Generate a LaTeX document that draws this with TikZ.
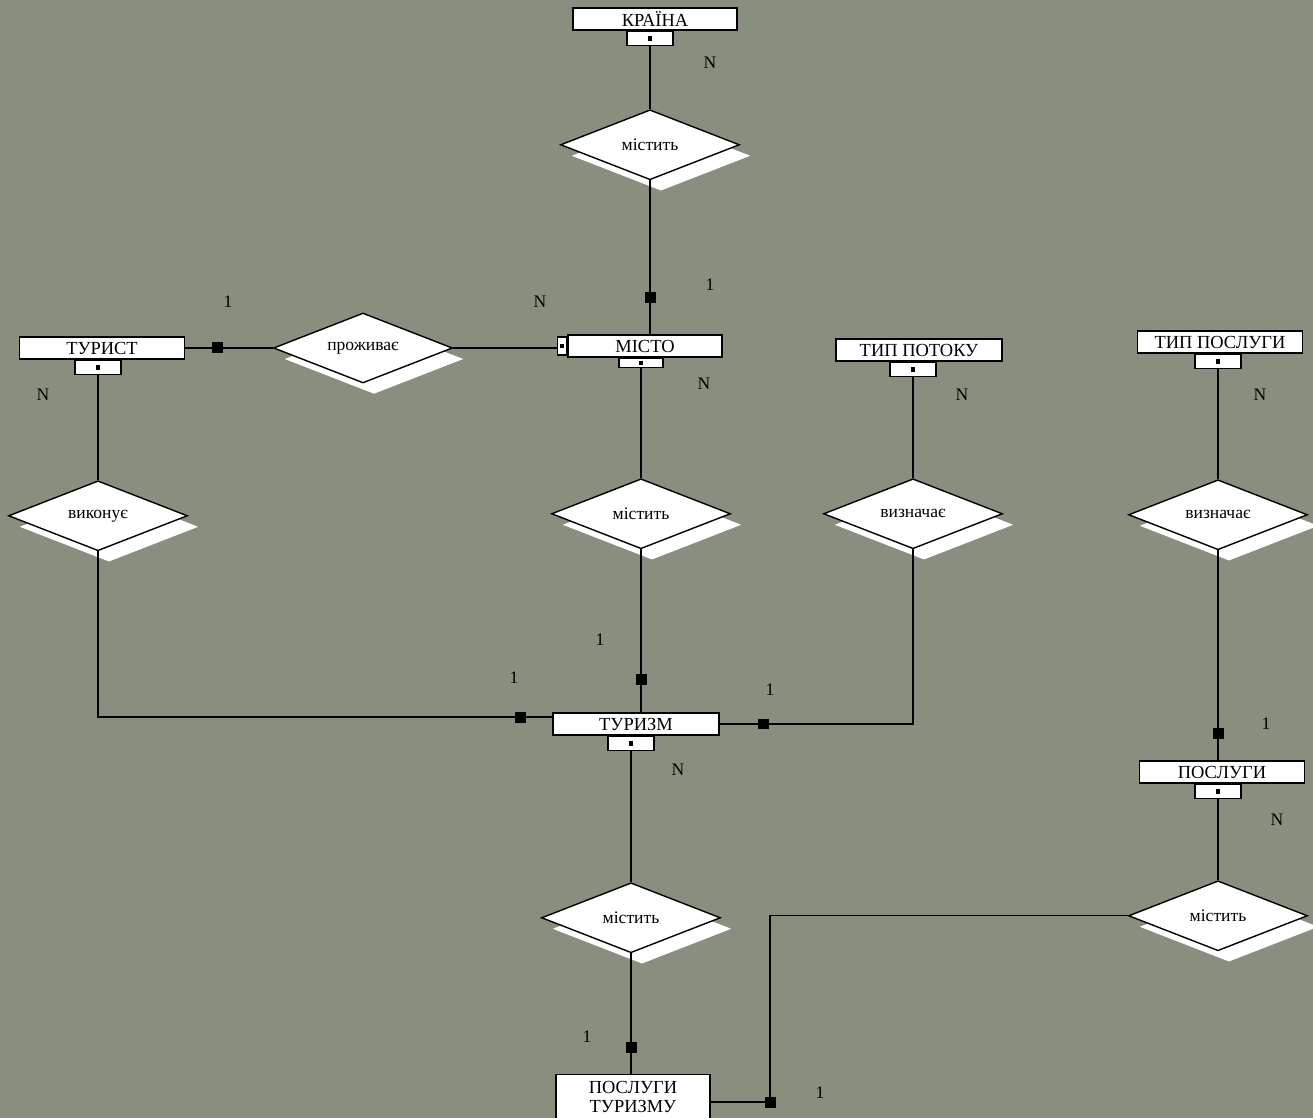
\documentclass[tikz,border=0pt]{standalone}
\usepackage{fontspec}
\setmainfont{Liberation Serif}
\usetikzlibrary{positioning,shapes.geometric,shadows}
\definecolor{boardgrey}{RGB}{137,143,127}

\tikzset{
  entity/.style={draw, fill=white, line width=0.8pt, minimum height=0.44cm, inner sep=1pt, font=\fontsize{10.5}{10.5}\selectfont},
  keybox/.style={draw, fill=white, line width=0.8pt, minimum width=0.92cm, minimum height=0.28cm, inner sep=0pt,
    path picture={\fill[black] (path picture bounding box.center) +(-1.2pt,-1.2pt) rectangle +(1.2pt,1.2pt);}},
  rel/.style={diamond, draw, fill=white, line width=0.8pt, aspect=2.5, inner sep=0pt,
    minimum width=3.58cm, minimum height=1.4cm, font=\fontsize{10}{12}\selectfont,
    drop shadow={shadow xshift=0.22cm, shadow yshift=-0.22cm, fill=white, opacity=1}},
  sqmark/.style={fill=black, minimum size=0.22cm, inner sep=0pt},
  card/.style={font=\fontsize{10}{12}\selectfont},
  conn/.style={line width=0.6pt}
}

\begin{document}
\begin{tikzpicture}[x=0.02cm, y=-0.02cm]
    \clip (0,0) rectangle (1313,1118);
    \fill[boardgrey] (0,0) rectangle (1313,1118);

    \node[entity, minimum width=3.28cm] (kraina) at (655,19) {КРАЇНА};
    \node[keybox, below=0pt of kraina, xshift=-0.1cm] (kraina-k) {};
    \node[rel, below=1.26cm of kraina-k] (cont1) {містить};

    \node[entity, minimum width=3.08cm] (misto) at (645,346) {МІСТО};
    \node[keybox, below=0pt of misto, xshift=-0.08cm, minimum width=0.88cm, minimum height=0.18cm] (misto-k) {};
    \node[keybox, left=0pt of misto, minimum width=0.18cm, minimum height=0.36cm] (misto-l) {};
    \node[rel, below=2.2cm of misto-k] (cont2) {містить};

    \node[entity, minimum width=3.3cm] (turyst) at (102,348) {ТУРИСТ};
    \node[keybox, below=0pt of turyst, xshift=-0.08cm] (turyst-k) {};
    \node[rel, below=2.1cm of turyst-k] (does) {виконує};
    \node[rel] (lives) at (363,348) {проживає};

    \node[entity, minimum width=3.32cm] (turyzm) at (636,724) {ТУРИЗМ};
    \node[keybox, below=0pt of turyzm, xshift=-0.1cm] (turyzm-k) {};
    \node[rel, below=2.62cm of turyzm-k] (cont3) {містить};
    \node[entity, minimum width=3.08cm, anchor=north, inner ysep=4pt, align=center] (servtour) at (633,1074) {ПОСЛУГИ\\ТУРИЗМУ};

    \node[entity, minimum width=3.32cm] (flowtype) at (919,350) {ТИП ПОТОКУ};
    \node[keybox, below=0pt of flowtype, xshift=-0.12cm] (flowtype-k) {};
    \node[rel, below=2.02cm of flowtype-k] (defines1) {визначає};

    \node[entity, minimum width=3.3cm] (servtype) at (1220,342) {ТИП ПОСЛУГИ};
    \node[keybox, below=0pt of servtype, xshift=-0.04cm] (servtype-k) {};
    \node[rel, below=2.2cm of servtype-k] (defines2) {визначає};

    \node[entity, minimum width=3.3cm] (serv) at (1222,772) {ПОСЛУГИ};
    \node[keybox, below=0pt of serv, xshift=-0.08cm] (serv-k) {};
    \node[rel, below=1.62cm of serv-k] (cont4) {містить};

    \draw[conn] (kraina-k) -- (cont1);
    \draw[conn] (cont1) -- node[sqmark, pos=0.76] (sq1) {} (cont1 |- misto.north);
    \draw[conn] (turyst) -- node[sqmark, pos=0.37] (sq2) {} (lives);
    \draw[conn] (lives) -- (lives -| misto-l.west);
    \draw[conn] (misto-k) -- (cont2);
    \draw[conn] (cont2) -- node[sqmark, pos=0.8] (sq3) {} (cont2 |- turyzm.north);
    \draw[conn] (turyst-k) -- (does);
    \draw[conn] (does) |- node[sqmark, pos=0.965] (sq4) {} ([yshift=0.14cm]turyzm.west);
    \draw[conn] (turyzm) -| node[sqmark, pos=0.113] (sq5) {} (defines1);
    \draw[conn] (flowtype-k) -- (defines1);
    \draw[conn] (servtype-k) -- (defines2);
    \draw[conn] (defines2) -- node[sqmark, pos=0.87] (sq6) {} (defines2 |- serv.north);
    \draw[conn] (serv-k) -- (cont4);
    \draw[conn] (turyzm-k) -- (cont3);
    \draw[conn] (cont3) -- node[sqmark, pos=0.78] (sq7) {} (cont3 |- servtour.north);
    \coordinate (bend) at (770,1102);
    \draw[conn] (cont4) -| (bend) -- (bend -| servtour.east);
    \node[sqmark] (sq8) at (bend) {};

    \node[card] (c1) at (710,63) {N};
    \node[card] (c2) at (710,285) {1};
    \node[card] (c3) at (228,302) {1};
    \node[card] (c4) at (540,302) {N};
    \node[card] (c5) at (43,395) {N};
    \node[card] (c6) at (704,384) {N};
    \node[card] (c7) at (962,395) {N};
    \node[card] (c8) at (1260,395) {N};
    \node[card] (c9) at (600,640) {1};
    \node[card] (c10) at (514,678) {1};
    \node[card] (c11) at (770,690) {1};
    \node[card] (c12) at (678,770) {N};
    \node[card] (c13) at (1266,724) {1};
    \node[card] (c14) at (1277,820) {N};
    \node[card] (c15) at (587,1037) {1};
    \node[card] (c16) at (820,1093) {1};
\end{tikzpicture}
\end{document}
